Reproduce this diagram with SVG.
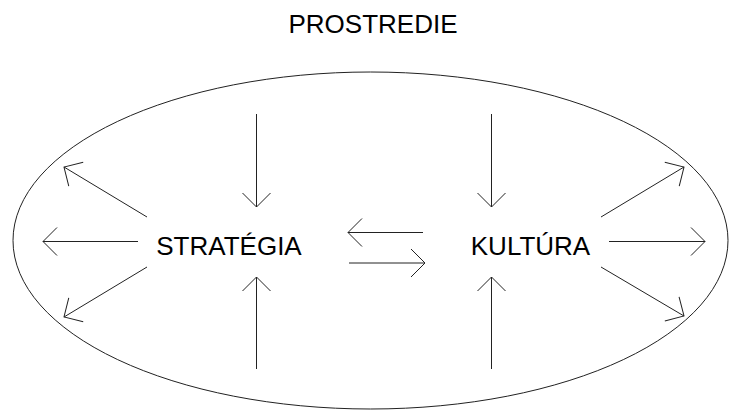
<svg xmlns="http://www.w3.org/2000/svg" width="729" height="410" viewBox="0 0 729 410">
<defs>
<marker id="ah" markerWidth="40" markerHeight="40" refX="0" refY="0" viewBox="-20 -20 40 40" markerUnits="userSpaceOnUse" orient="auto" overflow="visible">
<path d="M-14,-14 L0,0 L-14,14" fill="none" stroke="#222" stroke-width="1"/>
</marker>
<style>
.t{font-family:"Liberation Sans",Arial,sans-serif;font-size:26px;fill:#000;text-anchor:middle}
.c{stroke:#222;stroke-width:1;fill:none;marker-end:url(#ah)}
</style>
</defs>
<rect width="729" height="410" fill="#fff"/>
<g id="prostredie">
<ellipse cx="370.5" cy="240.5" rx="357.5" ry="168.5" fill="none" stroke="#222" stroke-width="1"/>
<text class="t" x="373" y="33">PROSTREDIE</text>
</g>
<g id="strategia">
<text class="t" x="229" y="255">STRATÉGIA</text>
</g>
<g id="kultura">
<text class="t" x="530.5" y="255">KULTÚRA</text>
</g>
<g id="connectors">
<line class="c" x1="147" y1="217" x2="64" y2="167"/>
<line class="c" x1="138" y1="241.5" x2="43" y2="241.5"/>
<line class="c" x1="147" y1="267" x2="64" y2="317"/>
<line class="c" x1="256.5" y1="114" x2="256.5" y2="207"/>
<line class="c" x1="256.5" y1="369" x2="256.5" y2="277"/>
<line class="c" x1="491.5" y1="114" x2="491.5" y2="207"/>
<line class="c" x1="491.5" y1="369" x2="491.5" y2="277"/>
<line class="c" x1="423" y1="232.5" x2="348" y2="232.5"/>
<line class="c" x1="349" y1="263" x2="425" y2="263"/>
<line class="c" x1="601" y1="217" x2="684" y2="167"/>
<line class="c" x1="609" y1="241.5" x2="705" y2="241.5"/>
<line class="c" x1="601" y1="267" x2="684" y2="316"/>
</g>
</svg>
